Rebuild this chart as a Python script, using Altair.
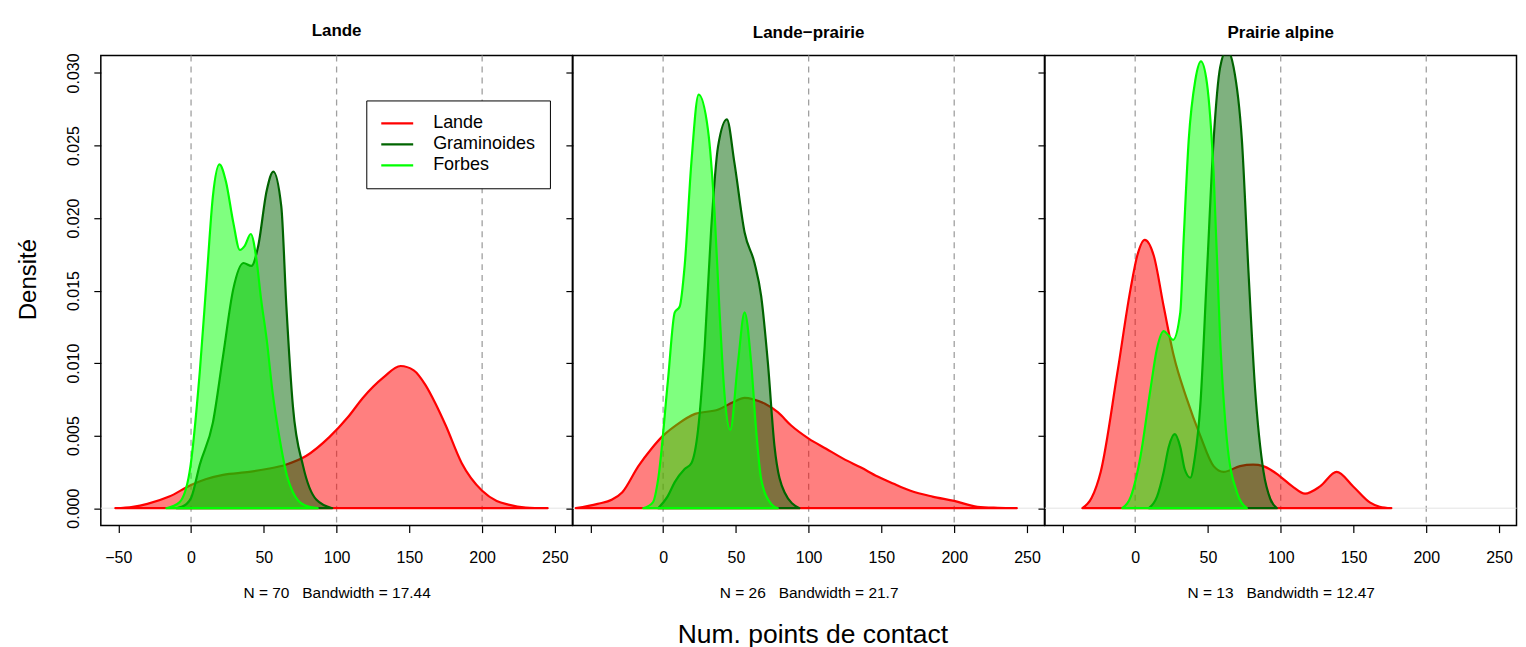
import altair as alt
import pandas as pd

# ---------------- text / categories ----------------
panel_titles = ["Lande", "Lande\u2212prairie", "Prairie alpine"]
SP = "\u00a0\u00a0\u00a0"
panel_notes = ["N = 70" + SP + "Bandwidth = 17.44", "N = 26" + SP + "Bandwidth = 21.7", "N = 13" + SP + "Bandwidth = 12.47"]
series_names = ["Lande", "Graminoides", "Forbes"]
series_colors = ["#FF0000", "#006400", "#00FF00"]
x_tick_values = [-50, 0, 50, 100, 150, 200, 250]
y_tick_values = [0.0, 0.005, 0.010, 0.015, 0.020, 0.025, 0.030]
ref_lines = [0, 100, 200]

# ---------------- panel 1 : Lande ----------------
p1_lande_x = [-52, -40, -30, -15, 0, 10, 22, 40, 52, 65, 79, 95, 108, 118, 132, 144, 153, 161, 168, 175, 186, 200, 210, 218, 230, 245]
p1_lande_d = [0, 0.0001, 0.0003, 0.0008, 0.0016, 0.0020, 0.0023, 0.0025, 0.0027, 0.0030, 0.0036, 0.0049, 0.0063, 0.0076, 0.0090, 0.0098, 0.0095, 0.0085, 0.0072, 0.0057, 0.0031, 0.0012, 0.0005, 0.00025, 0.00005, 0]
p1_gram_x = [-10, -3, 0, 6, 15, 22, 29, 36, 41.5, 46, 52, 56.5, 62, 65.5, 70, 77, 86, 97]
p1_gram_d = [0, 0.0003, 0.0007, 0.0030, 0.0059, 0.0105, 0.0151, 0.0169, 0.0167, 0.0180, 0.0219, 0.0232, 0.0208, 0.0139, 0.0070, 0.0029, 0.0006, 0]
p1_forb_x = [-17, -8, -1, 6, 11, 15, 19.5, 24, 29, 33.5, 37, 41, 45, 48, 52, 56, 61, 66, 70, 78, 87]
p1_forb_d = [0, 0.0004, 0.0025, 0.0094, 0.0162, 0.0215, 0.0237, 0.0225, 0.0197, 0.0178, 0.0181, 0.0189, 0.0171, 0.0145, 0.0116, 0.0080, 0.0047, 0.0022, 0.0011, 0.0002, 0]

# ---------------- panel 2 : Lande-prairie ----------------
p2_lande_x = [-60, -45, -35, -28, -17, -8, 0, 10, 22, 38, 48, 56, 62, 70, 79, 88, 100, 112, 124, 136, 147, 158, 170, 185, 200, 216, 230, 243]
p2_lande_d = [0, 0.0003, 0.0006, 0.0011, 0.0029, 0.0041, 0.0050, 0.0058, 0.0065, 0.0068, 0.0073, 0.0076, 0.0075, 0.0072, 0.0066, 0.0057, 0.0048, 0.0041, 0.0034, 0.0028, 0.0022, 0.0017, 0.0012, 0.0008, 0.0005, 0.0001, 0.00003, 0]
p2_gram_x = [-3.4, 3, 8, 14.8, 19.4, 24, 28.6, 33, 37.7, 43.8, 49, 56, 62.8, 67.4, 72, 76.5, 83.4, 93.6]
p2_gram_d = [0, 0.0008, 0.0018, 0.0027, 0.0031, 0.0054, 0.0112, 0.0192, 0.0249, 0.0268, 0.0238, 0.0190, 0.0169, 0.0146, 0.0100, 0.0043, 0.0011, 0]
p2_forb_x = [-13.7, -7, -3.4, 3.4, 8, 11.4, 14.8, 19.4, 24.4, 30.8, 35.4, 38.8, 42.3, 46.1, 51.4, 56, 60.5, 63.9, 67.4, 74.2, 78.8]
p2_forb_d = [0, 0.0004, 0.0020, 0.0089, 0.0135, 0.0139, 0.0167, 0.0238, 0.0285, 0.0261, 0.0203, 0.0135, 0.0077, 0.0054, 0.0100, 0.0135, 0.0100, 0.0054, 0.0020, 0.0003, 0]

# ---------------- panel 3 : Prairie alpine ----------------
p3_lande_x = [-36.3, -30, -23.7, -12.3, -3.2, 1.4, 6.6, 12.8, 19.6, 26.5, 35.6, 44.7, 53.9, 60.7, 72, 81, 88, 99.5, 108, 116.7, 127, 138.4, 149.8, 161.2, 168, 176]
p3_lande_d = [0, 0.0007, 0.0025, 0.0093, 0.0151, 0.0174, 0.0185, 0.0174, 0.0139, 0.0105, 0.0075, 0.0050, 0.0029, 0.0025, 0.0029, 0.0030, 0.0029, 0.0022, 0.0015, 0.0010, 0.0015, 0.0025, 0.0015, 0.0004, 0.0001, 0]
p3_gram_x = [9.4, 15, 19.6, 23, 27.2, 31, 34, 37.9, 41, 44.7, 49.3, 53.9, 58.4, 63, 67.6, 73.3, 77.9, 82.4, 88.2, 93, 97.3]
p3_gram_d = [0, 0.0008, 0.0025, 0.0042, 0.0051, 0.0042, 0.0027, 0.0021, 0.0035, 0.0070, 0.0162, 0.0254, 0.0304, 0.0316, 0.0304, 0.0254, 0.0162, 0.0082, 0.0025, 0.0006, 0]
p3_forb_x = [-8.9, -3, 3.7, 10.5, 15, 19.6, 23, 26, 31, 33.3, 36.8, 41.3, 45.2, 49.3, 53.9, 58.4, 63, 69.9, 76.7]
p3_forb_d = [0, 0.0008, 0.0036, 0.0082, 0.0110, 0.0122, 0.0119, 0.0116, 0.0135, 0.0185, 0.0254, 0.0295, 0.0308, 0.0293, 0.0231, 0.0116, 0.0047, 0.0011, 0]

curves = [
    {"Lande": (p1_lande_x, p1_lande_d), "Graminoides": (p1_gram_x, p1_gram_d), "Forbes": (p1_forb_x, p1_forb_d)},
    {"Lande": (p2_lande_x, p2_lande_d), "Graminoides": (p2_gram_x, p2_gram_d), "Forbes": (p2_forb_x, p2_forb_d)},
    {"Lande": (p3_lande_x, p3_lande_d), "Graminoides": (p3_gram_x, p3_gram_d), "Forbes": (p3_forb_x, p3_forb_d)},
]

FONT = "Liberation Sans"
W, H = 472.5, 471
XDOM = [-62, 262]
YDOM = [-0.0012, 0.0312]


def make_panel(i):
    rows = []
    for s in series_names:
        xs, ds = curves[i][s]
        rows += [{"x": a, "d": b, "series": s} for a, b in zip(xs, ds)]
    df = pd.DataFrame(rows)

    xscale = alt.Scale(domain=XDOM, nice=False, zero=False)
    yscale = alt.Scale(domain=YDOM, nice=False, zero=False)

    xkw = dict(values=x_tick_values, format="d", title=panel_notes[i], labelFont=FONT, titleFont=FONT,
               labelFontSize=16, titleFontSize=15.5, titleFontWeight="normal", tickSize=7,
               tickColor="black", tickWidth=1.2, labelColor="black", titleColor="black",
               domain=False, grid=False, labelPadding=17, titlePadding=20,
               labelFlush=False, labelOverlap=False)
    if i > 0:
        xkw["labelExpr"] = "datum.value == -50 ? '' : datum.label"
    xaxis = alt.Axis(**xkw)

    if i == 0:
        yaxis = alt.Axis(values=y_tick_values, format=".3f", title="Densit\u00e9", labelFont=FONT, titleFont=FONT,
                         labelAngle=270, labelAlign="center", labelBaseline="bottom", labelFontSize=16,
                         titleFontSize=24, titleFontWeight="normal", titlePadding=25, titleY=224,
                         tickSize=7, tickColor="black", tickWidth=1.2, labelColor="black", titleColor="black",
                         domain=False, grid=False, labelPadding=12)
    else:
        yaxis = alt.Axis(values=y_tick_values, labels=False, title=None, tickSize=7,
                         tickColor="black", tickWidth=1.2, domain=False, grid=False)

    stroke_scale = alt.Scale(domain=series_names, range=series_colors)
    if i == 0:
        leg = alt.Legend(title=None, orient="none", legendX=266, legendY=45,
                         symbolType="M-2.46,0H2.46", symbolSize=169, symbolStrokeWidth=2.2,
                         symbolOffset=8, labelOffset=27, symbolOpacity=1,
                         labelFont=FONT, labelFontSize=18, labelColor="black",
                         rowPadding=3, padding=14, strokeColor="black", fillColor="white")
    else:
        leg = None

    rules = alt.Chart(pd.DataFrame({"x": ref_lines})).mark_rule(
        color="#a0a0a0", strokeDash=[6, 5], strokeWidth=1.3
    ).encode(x=alt.X("x:Q", scale=xscale, axis=xaxis))

    zero = alt.Chart(pd.DataFrame({"d": [0.0]})).mark_rule(
        color="#e4e4e4", strokeWidth=1
    ).encode(y=alt.Y("d:Q", scale=yscale, axis=yaxis))

    layers = [rules, zero]
    for k, s in enumerate(series_names):
        layers.append(
            alt.Chart(df).transform_filter(alt.datum.series == s).mark_area(
                fill=series_colors[k], fillOpacity=0.5, strokeWidth=2.2, strokeJoin="round",
                interpolate="monotone", clip=True
            ).encode(
                x=alt.X("x:Q", scale=xscale, axis=xaxis),
                y=alt.Y("d:Q", scale=yscale, axis=yaxis),
                stroke=alt.Stroke("series:N", scale=stroke_scale, legend=leg),
            )
        )

    return alt.layer(*layers).properties(
        width=W, height=H,
        title=alt.Title(panel_titles[i], fontSize=17, fontWeight="bold", offset=13,
                        anchor="middle", font=FONT, color="black"),
    )


chart = alt.hconcat(*[make_panel(i) for i in range(3)], spacing=0, bounds="flush").resolve_scale(
    x="independent", y="independent", stroke="independent"
).resolve_axis(x="independent", y="independent").properties(
    title=alt.Title("Num. points de contact", orient="bottom", anchor="middle", dx=46,
                    fontSize=26.5, fontWeight="normal", offset=20, font=FONT, color="black"),
    padding={"left": 8, "top": 12, "right": 0, "bottom": 0},
).configure(font=FONT, background="white").configure_view(stroke="black", strokeWidth=1.5)

chart.save("out.html", embed_options={"renderer": "svg", "actions": False})
